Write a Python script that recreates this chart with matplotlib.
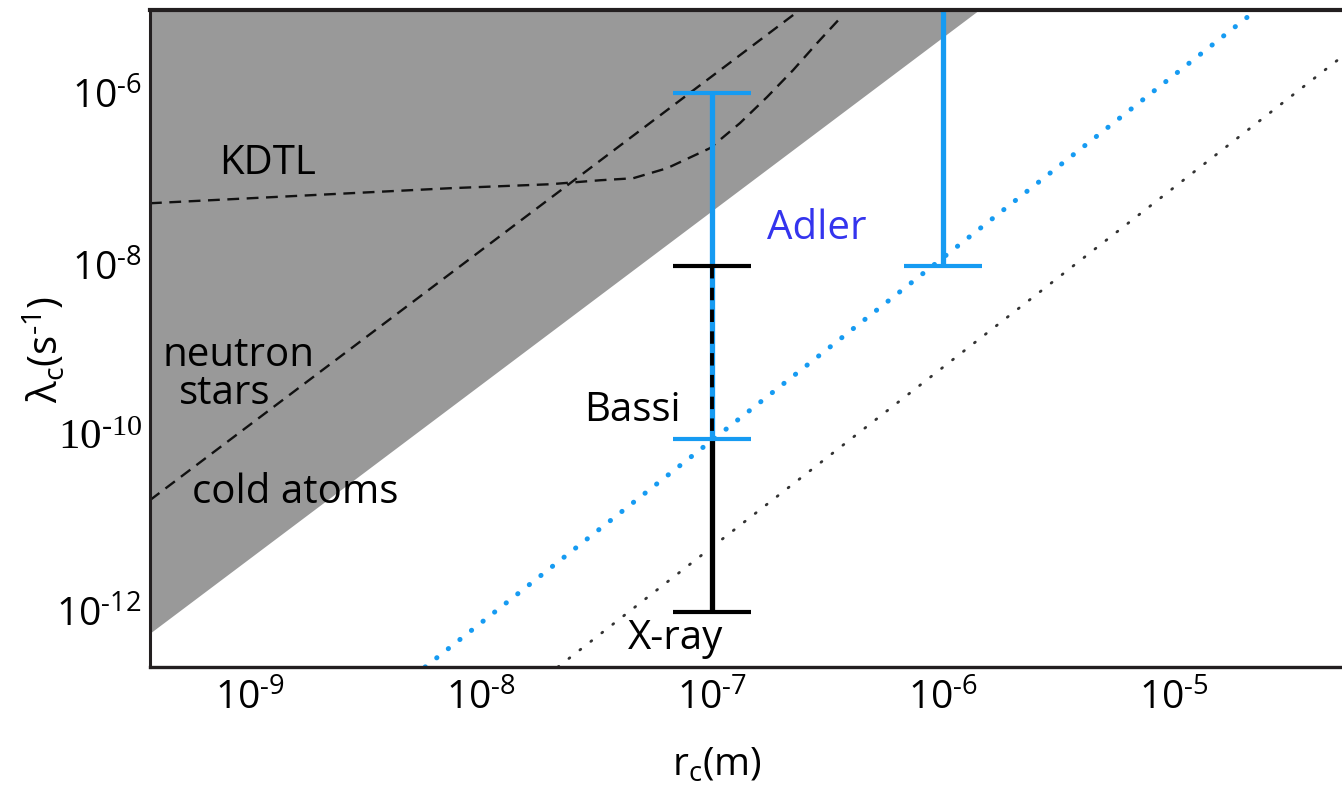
import numpy as np
import matplotlib
matplotlib.use('Agg')
import matplotlib.pyplot as plt
from matplotlib.font_manager import FontProperties
import matplotlib.transforms as mtransforms

plt.rcParams['font.family'] = ['Open Sans', 'DejaVu Sans']
plt.rcParams['mathtext.fontset'] = 'custom'
plt.rcParams['mathtext.rm'] = 'Open Sans'
plt.rcParams['mathtext.it'] = 'Open Sans:italic'
plt.rcParams['mathtext.bf'] = 'Open Sans:bold'

H = '\u2010'  # short hyphen used as the exponent sign in the reference

# ---------------- data ----------------
x_ticks = [1e-9, 1e-8, 1e-7, 1e-6, 1e-5]
x_exponents = ['9', '8', '7', '6', '5']
y_ticks = [1e-12, 1e-10, 1e-8, 1e-6]
y_exponents = ['12', '10', '8', '6']
serif_y_tick = 1e-10   # this one label is set in a serif face in the reference
x_tick_labels = [r'$\mathregular{10^{%s%s}}$' % (H, e) for e in x_exponents]
y_tick_labels = [r'$\mathregular{10^{%s%s}}$' % (H, e) for e in y_exponents]

# excluded (grey) region lower boundary
excluded_r = [10**-9.433, 10**-5.840]
excluded_lam = [10**-12.255, 10**-5.039]

# KDTL bound (dashed curve)
kdtl_r = 10**np.array([-9.433, -8.134, -7.701, -7.485, -7.342, -7.195, -7.009,
                       -6.879, -6.762, -6.649, -6.545, -6.433])
kdtl_lam = 10**np.array([-7.274, -7.100, -7.054, -7.008, -6.985, -6.869, -6.637,
                         -6.347, -6.046, -5.734, -5.421, -5.097])

# neutron stars / cold atoms bound (dashed line)
neutron_r = [10**-9.433, 10**-6.62]
neutron_lam = [10**-10.707, 10**-5.039]

# Adler (blue dotted) and black dotted lines
adler_line_r = [10**-8.242, 10**-4.671]
adler_line_lam = [10**-12.637, 10**-5.097]
grw_line_r = [10**-7.667, 10**-4.273]
grw_line_lam = [10**-12.637, 10**-5.579]

# error bars
bar_r1 = 1e-7
adler_bar1 = [1e-6, 1e-10]     # blue, solid
bassi_bar = [1e-8, 1e-10]      # black dashed
xray_bar = [1e-10, 1e-12]      # black solid
bar_r2 = 1e-6
adler_bar2 = [1e-4, 1e-8]      # blue, runs past the top

BLUE = '#169BF2'
GREY = '#999999'
INK = '#111111'

fig = plt.figure(figsize=(13.42, 7.94), dpi=100)
ax = fig.add_axes([150/1342, 1-667/794, 1192/1342, 657/794])
ax.set_xscale('log')
ax.set_yscale('log')
ax.set_xlim(10**-9.433, 10**-4.273)
ax.set_ylim(10**-12.637, 10**-5.039)

ax.fill_between(excluded_r, excluded_lam, 1.0, color=GREY, lw=0, zorder=1)

ax.plot(kdtl_r, kdtl_lam, color=INK, lw=1.7, ls=(0, (5, 3.2)), zorder=2)
ax.plot(neutron_r, neutron_lam, color=INK, lw=1.7, ls=(0, (5, 3.2)), zorder=2)

ax.plot(adler_line_r, adler_line_lam, color=BLUE, lw=3.6, ls=(0, (0.05, 2.9)),
        dash_capstyle='round', zorder=2)
ax.plot(grw_line_r, grw_line_lam, color='#333333', lw=2.0, ls=(0, (0.4, 4.6)),
        dash_capstyle='round', zorder=2)

# error bars
ax.plot([bar_r1, bar_r1], adler_bar1, color=BLUE, lw=3.8, solid_capstyle='butt', zorder=3)
ax.plot([bar_r1, bar_r1], bassi_bar, color='black', lw=2.8, ls=(0, (3.2, 2.4)),
        dash_capstyle='butt', zorder=4)
ax.plot([bar_r1, bar_r1], xray_bar, color='black', lw=3.8, solid_capstyle='butt', zorder=3)
ax.plot([bar_r2, bar_r2], adler_bar2, color=BLUE, lw=3.8, solid_capstyle='butt', zorder=3)

cap = dict(marker='_', ms=56, mew=3.0, ls='none', zorder=5)
ax.plot([bar_r1], [adler_bar1[0]], color=BLUE, **cap)
ax.plot([bar_r1], [adler_bar1[1]], color=BLUE, **cap)
ax.plot([bar_r1], [bassi_bar[0]], color='black', **cap)
ax.plot([bar_r1], [xray_bar[1]], color='black', **cap)
ax.plot([bar_r2], [adler_bar2[1]], color=BLUE, **cap)

# annotations
fs = 29
ax.text(10**-8.926, 10**-6.822, 'KDTL', fontsize=fs, ha='center', va='center', zorder=6)
ax.text(10**-9.052, 10**-9.035, 'neutron', fontsize=fs, ha='center', va='center', zorder=6)
ax.text(10**-9.108, 10**-9.475, 'stars', fontsize=fs, ha='center', va='center', zorder=6)
ax.text(10**-8.805, 10**-10.622, 'cold atoms', fontsize=fs, ha='center', va='center', zorder=6)
ax.text(10**-7.346, 10**-9.672, 'Bassi', fontsize=fs, ha='center', va='center', zorder=6)
ax.text(10**-6.545, 10**-7.564, 'Adler', fontsize=fs, ha='center', va='center',
        color='#3434EE', zorder=6)
ax.text(10**-7.160, 10**-12.313, 'X-ray', fontsize=fs, ha='center', va='center', zorder=6)

# axes styling
ax.set_xticks(x_ticks)
ax.set_xticklabels(x_tick_labels)
ax.set_yticks(y_ticks)
# the serif-styled label is drawn separately below
ax.set_yticklabels(['' if t == serif_y_tick else lab for t, lab in zip(y_ticks, y_tick_labels)])
ax.minorticks_off()
ax.tick_params(axis='both', length=0, labelsize=28)
ax.tick_params(axis='x', pad=9)
ax.tick_params(axis='y', pad=6)

serif_label = y_tick_labels[y_ticks.index(serif_y_tick)]
trans = mtransforms.blended_transform_factory(ax.transAxes, ax.transData) + \
    mtransforms.ScaledTranslation(-8/100, 0, fig.dpi_scale_trans)
ax.text(0, serif_y_tick, serif_label, transform=trans, ha='right', va='center',
        fontproperties=FontProperties(family=['Liberation Serif', 'DejaVu Serif'], size=31),
        clip_on=False)

for side in ['top', 'left', 'bottom']:
    ax.spines[side].set_color('#231F20')
ax.spines['top'].set_linewidth(3.0)
ax.spines['left'].set_linewidth(2.2)
ax.spines['bottom'].set_linewidth(2.4)
ax.spines['right'].set_visible(False)
for s in ax.spines.values():
    s.set_zorder(7)

ax.set_xlabel(r'$\mathregular{r_c(m)}$', fontsize=28)
ax.set_ylabel(r'$\mathregular{\lambda_c(s^{%s1})}$' % H, fontsize=29)
ax.xaxis.set_label_coords((717-150)/1192, -(746-667)/657)
ax.yaxis.set_label_coords(-(150-68)/1192, (667-350)/657)

fig.savefig('out.png', dpi=100)
